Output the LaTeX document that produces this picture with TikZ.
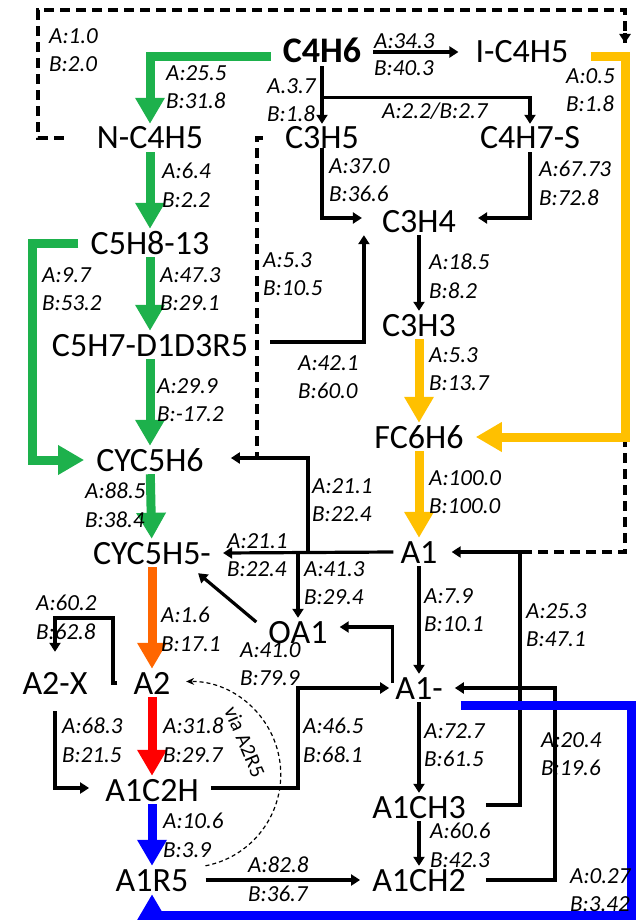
\documentclass[tikz,border=0pt]{standalone}
\usepackage{fontspec}
\setmainfont{Carlito}
\usetikzlibrary{arrows.meta}
\definecolor{grn}{RGB}{29,177,76}
\definecolor{ylw}{RGB}{255,192,0}
\definecolor{org}{RGB}{255,102,0}
\definecolor{blu}{RGB}{0,0,255}
\tikzset{
    sp/.style={inner xsep=12pt, inner ysep=3pt, text height=22pt, text depth=0pt,
        font=\fontsize{34}{36}\selectfont},
    lbl/.style={anchor=north west, inner sep=0pt, align=left,
        font=\fontsize{23}{28.5}\selectfont\itshape},
    blk/.style={line width=3.2pt, -{Triangle[length=9pt,width=11pt]}},
    fat/.style={line width=9pt, -{Triangle[length=26pt,width=28pt]}},
    dsh/.style={line width=3.6pt, dash pattern=on 10pt off 6pt},
    via/.style={line width=1.2pt, dash pattern=on 4pt off 3pt, -{Stealth[length=8pt,width=7pt]}}
}
\begin{document}
\begin{tikzpicture}[x=1pt, y=-1pt]
                    \useasboundingbox (0,0) rectangle (637,920);
                    % species
                    \node[sp, font=\fontsize{36}{38}\selectfont\bfseries] (c4h6) at (322,52){C4H6};
                    \node[sp] (ic4h5) at (522,52){I-C4H5};
                    \node[sp] (nc4h5) at (150,138){N-C4H5};
                    \node[sp] (c3h5) at (322,138){C3H5};
                    \node[sp] (c4h7s) at (530,138){C4H7-S};
                    \node[sp] (c3h4) at (419,221){C3H4};
                    \node[sp] (c5h813) at (150,243){C5H8-13};
                    \node[sp] (c3h3) at (419,325){C3H3};
                    \node[sp] (c5h7) at (150,345){C5H7-D1D3R5};
                    \node[sp] (fc6h6) at (419,437){FC6H6};
                    \node[sp] (cyc5h6) at (150,460){CYC5H6};
                    \node[sp] (aone) at (419,552){A1};
                    \node[sp] (cyc5h5) at (152,553){CYC5H5-};
                    \node[sp] (oa1) at (298,632){OA1};
                    \node[sp] (a2x) at (55,683){A2-X};
                    \node[sp] (a2) at (152,683){A2};
                    \node[sp] (aonem) at (419,688){A1-};
                    \node[sp] (a1c2h) at (152,790){A1C2H};
                    \node[sp] (a1ch3) at (419,807){A1CH3};
                    \node[sp] (a1r5) at (152,880){A1R5};
                    \node[sp] (a1ch2) at (419,880){A1CH2};
                    % junctions
                    \coordinate (dtop) at (625,43);
                    \coordinate (ycorner) at (625,437);
                    \coordinate (ajoin) at (520,552);
                    \coordinate (ajoin2) at (555,688);
                    \coordinate (djoin) at (257,458);
                    \coordinate (hjoin) at (308,552);
                    \coordinate (a2xtop) at (113,618);
                    \coordinate (bcorner) at (631,915);
                    % dashed links
                    \draw[dsh] ([xshift=-21pt]nc4h5.west) -| (38,10) -| (dtop);
                    \draw[line width=3.4pt, -{Triangle[length=9pt,width=11pt]}] ([yshift=10pt]dtop) -- (dtop);
                    \draw[dsh] ([xshift=-10pt]c3h5.west) -| (djoin);
                    \draw[dsh] (ycorner) |- (ajoin);
                    % black links
                    \draw[blk, shorten >=5pt] (c4h6.east) -- (ic4h5.west);
                    \draw[blk] (c4h6.south) -- (c3h5.north);
                    \draw[blk] ([yshift=-31pt]c4h6.south) -| (c4h7s.north);
                    \draw[blk, shorten >=8pt] ([yshift=4pt]c3h5.south west -| c3h5.south) |- ([yshift=3pt]c3h4.west);
                    \draw[blk, shorten >=10pt] (c4h7s.south) |- ([yshift=3pt]c3h4.east);
                    \draw[blk] (c3h4) -- (c3h3);
                    \draw[blk] ([xshift=10pt,yshift=3pt]c5h7.east) -| ([xshift=-6pt]c3h4.south west);
                    \draw[blk, shorten >=15pt] (djoin) -- ([yshift=2pt]cyc5h6.east);
                    \draw[line width=3.2pt] (djoin) -- (hjoin |- djoin) -- (hjoin);
                    \draw[blk] ([xshift=5pt]aone.west) -- (cyc5h5.east);
                    \draw[blk] (oa1 |- aone.west) -- (oa1.north);
                    \draw[blk] ([yshift=10pt]oa1.west) -- ([xshift=-25pt,yshift=-6pt]cyc5h5.south east);
                    \draw[blk] ([xshift=9pt,yshift=5pt]aonem.west) |- ([yshift=5pt]oa1.east);
                    \draw[blk] (aone) -- (aonem);
                    \draw[blk, shorten >=2pt] ([xshift=8pt,yshift=2pt]a1ch3.east) -| (ajoin) -- (aone.east);
                    \draw[blk] ([xshift=8pt]a1ch2.east) -| (ajoin2) -- (aonem.east);
                    \draw[blk] (aonem) -- (a1ch3);
                    \draw[blk] (a1ch3) -- (a1ch2);
                    \draw[blk] ([xshift=5pt]a1r5.east) -- (a1ch2.west);
                    \draw[blk] ([yshift=2pt]a1c2h.east) -| (oa1 |- aonem.west) -- ([xshift=6pt]aonem.west);
                    \draw[blk, shorten >=17pt] ([xshift=-4pt]a2.west) -| (a2xtop) -| (a2x.north);
                    \draw[blk, shorten >=4pt] ([yshift=-14pt]a2x.south) |- ([yshift=2pt]a1c2h.west);
                    % coloured links
                    \draw[fat, grn] ([yshift=-5pt]c4h6.west) -| (nc4h5.north);
                    \draw[fat, grn] (nc4h5) -- (c5h813);
                    \draw[fat, grn] (c5h813.west) -- ++(-46,0) |- (cyc5h6.west);
                    \draw[fat, grn] (c5h813) -- (c5h7);
                    \draw[fat, grn] (c5h7) -- (cyc5h6);
                    \draw[fat, grn] (cyc5h6) -- (cyc5h5);
                    \draw[fat, ylw] ([xshift=10pt,yshift=-5pt]ic4h5.east) -| (ycorner) -- (fc6h6.east);
                    \draw[fat, ylw] (c3h3) -- (fc6h6);
                    \draw[fat, ylw] (fc6h6) -- (aone);
                    \draw[fat, org] (cyc5h5) -- (a2);
                    \draw[fat, red] (a2) -- (a1c2h);
                    \draw[fat, blu] (a1c2h) -- (a1r5);
                    \draw[fat, blu] ([xshift=6pt,yshift=-17pt]aonem.east) -| (bcorner) -| (a1r5.south);
                    % via A2R5
                    \draw[via] ([xshift=5pt]a1r5.north east) arc[start angle=79, end angle=-91, radius=93];
                    \node[font=\fontsize{21}{22}\selectfont, rotate=-67] (viatxt) at (245,742){via A2R5};
                    % labels
                    \node[lbl] (l1) at (49,28){A:1.0\\B:2.0};
                    \node[lbl] (l2) at (166,65){A:25.5\\B:31.8};
                    \node[lbl] (l3) at (267,78){A.3.7\\B:1.8};
                    \node[lbl, font=\fontsize{23}{27}\selectfont\itshape] (l4) at (374,33){A:34.3\\B:40.3};
                    \node[lbl] (l5) at (382,103){A:2.2/B:2.7};
                    \node[lbl] (l6) at (566,68){A:0.5\\B:1.8};
                    \node[lbl] (l7) at (329,158){A:37.0\\B:36.6};
                    \node[lbl] (l8) at (539,161){A:67.73\\B:72.8};
                    \node[lbl] (l9) at (162,163){A:6.4\\B:2.2};
                    \node[lbl] (l10) at (42,267){A:9.7\\B:53.2};
                    \node[lbl] (l11) at (160,267){A:47.3\\B:29.1};
                    \node[lbl] (l12) at (263,252){A:5.3\\B:10.5};
                    \node[lbl] (l13) at (429,254){A:18.5\\B:8.2};
                    \node[lbl] (l14) at (298,355){A:42.1\\B:60.0};
                    \node[lbl] (l15) at (429,347){A:5.3\\B:13.7};
                    \node[lbl] (l16) at (157,378){A:29.9\\B:-17.2};
                    \node[lbl] (l17) at (312,478){A:21.1\\B:22.4};
                    \node[lbl] (l18) at (429,470){A:100.0\\B:100.0};
                    \node[lbl] (l19) at (85,483){A:88.5\\B:38.4};
                    \node[lbl] (l20) at (227,533){A:21.1\\B:22.4};
                    \node[lbl] (l21) at (304,561){A:41.3\\B:29.4};
                    \node[lbl] (l22) at (36,595){A:60.2\\B:62.8};
                    \node[lbl] (l23) at (161,607){A:1.6\\B:17.1};
                    \node[lbl] (l24) at (240,642){A:41.0\\B:79.9};
                    \node[lbl] (l25) at (424,588){A:7.9\\B:10.1};
                    \node[lbl] (l26) at (526,603){A:25.3\\B:47.1};
                    \node[lbl] (l27) at (62,718){A:68.3\\B:21.5};
                    \node[lbl] (l28) at (163,718){A:31.8\\B:29.7};
                    \node[lbl] (l29) at (303,718){A:46.5\\B:68.1};
                    \node[lbl] (l30) at (424,723){A:72.7\\B:61.5};
                    \node[lbl] (l31) at (541,732){A:20.4\\B:19.6};
                    \node[lbl] (l32) at (163,813){A:10.6\\B:3.9};
                    \node[lbl] (l33) at (430,823){A:60.6\\B:42.3};
                    \node[lbl] (l34) at (248,857){A:82.8\\B:36.7};
                    \node[lbl] (l35) at (570,868){A:0.27\\B:3.42};
\end{tikzpicture}
\end{document}
